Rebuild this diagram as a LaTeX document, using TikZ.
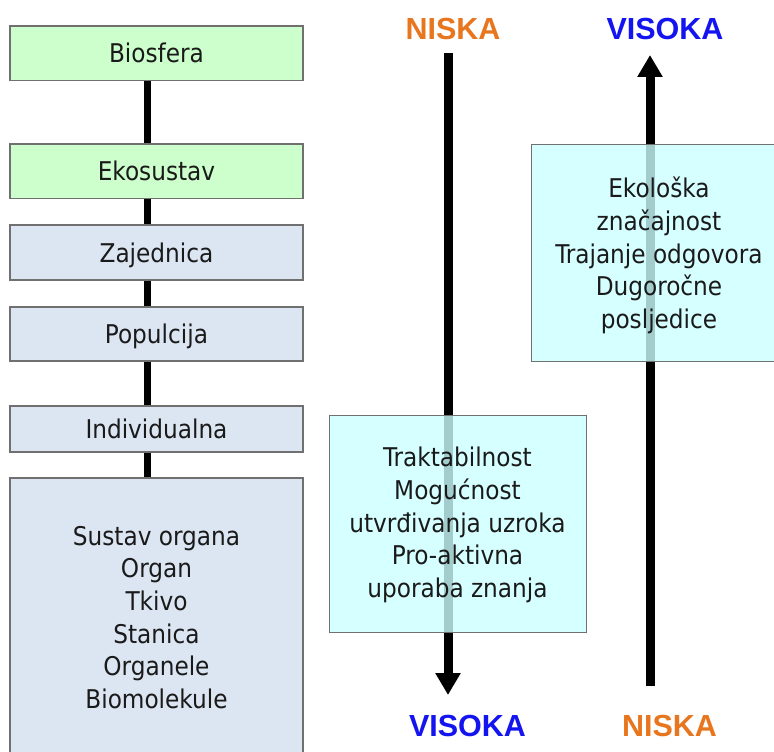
\documentclass[tikz,border=0pt]{standalone}
\usepackage{fontspec}
\setmainfont{DejaVu Sans Condensed}
\newfontfamily\labelfont{Liberation Sans}
\usetikzlibrary{arrows.meta}
\definecolor{greenbox}{HTML}{CCFFCC}
\definecolor{greybox}{HTML}{DCE6F2}
\definecolor{cyanbox}{HTML}{CCFFFF}
\definecolor{niskaorange}{HTML}{E8761E}
\definecolor{visokablue}{HTML}{1414F0}
\definecolor{boxedge}{HTML}{707070}
\definecolor{textdark}{HTML}{1A1A1A}
\begin{document}
\begin{tikzpicture}[x=1pt,y=-1pt,
  bodyfont/.style={font=\fontsize{25.8}{32.6}\selectfont, text=textdark},
  levelbox/.style={draw=boxedge, line width=1.2pt, minimum width=293pt, inner sep=0pt,
    bodyfont, text height=19pt, text depth=0pt},
  greenlevel/.style={levelbox, fill=greenbox},
  greylevel/.style={levelbox, fill=greybox},
  infobox/.style={draw=boxedge, line width=1pt, fill=cyanbox, fill opacity=0.8, text opacity=1,
    minimum width=257pt, minimum height=217pt, inner sep=0pt},
  infotext/.style={bodyfont, align=center, inner sep=0pt},
  conn/.style={line width=7pt, black},
  bigarrow/.style={line width=9pt, black, -{Triangle[width=24pt,length=22pt]}},
  lbl/.style={font=\labelfont\bfseries\fontsize{30.5}{30.5}\selectfont, inner sep=0pt},
]
\useasboundingbox (0,0) rectangle (774,752);

% connector axis
\coordinate (cx) at (147,0);

% level boxes
\node[greenlevel, minimum height=54.5pt] (bio) at (156.5,53.3) {Biosfera};
\node[greenlevel, minimum height=54.5pt] (eko) at (156.5,171.3) {Ekosustav};
\node[greylevel, minimum height=55pt] (zaj) at (156.5,252.5) {Zajednica};
\node[greylevel, minimum height=54pt] (pop) at (156.5,334) {Populcija};
\node[greylevel, minimum height=46pt] (ind) at (156.5,429) {Individualna};
\node[draw=boxedge, line width=1.2pt, fill=greybox, minimum width=293pt, minimum height=290pt, inner sep=0pt] (org) at (156.5,623) {};
\node[infotext] (orgtext) at (156.5,617.5) {Sustav organa\\Organ\\Tkivo\\Stanica\\Organele\\Biomolekule};

% connectors between levels
\draw[conn] (bio.south -| cx) -- (eko.north -| cx);
\draw[conn] (eko.south -| cx) -- (zaj.north -| cx);
\draw[conn] (zaj.south -| cx) -- (pop.north -| cx);
\draw[conn] (pop.south -| cx) -- (ind.north -| cx);
\draw[conn] (ind.south -| cx) -- (org.north -| cx);

% labels
\node[lbl, text=niskaorange] (nisT) at (453,29) {NISKA};
\node[lbl, text=visokablue] (visT) at (665,29) {VISOKA};
\node[lbl, text=visokablue] (visB) at (467.5,726) {VISOKA};
\node[lbl, text=niskaorange] (nisB) at (669.5,726) {NISKA};

% arrows
\coordinate (a1s) at (448,53);
\coordinate (a1e) at (448,695);
\coordinate (a2s) at (650,686);
\coordinate (a2e) at (650,55);
\draw[bigarrow] (a1s) -- (a1e);
\draw[bigarrow] (a2s) -- (a2e);

% semi-transparent info boxes
\node[infobox] (lowbox) at (457.5,523.5) {};
\node[infotext] (lowtext) at (457.5,525) {Traktabilnost\\Mogućnost\\utvrđivanja uzroka\\Pro-aktivna\\uporaba znanja};
\node[infobox] (highbox) at (659.5,252.5) {};
\node[infotext] (hightext) at (659,255.5) {Ekološka\\značajnost\\Trajanje odgovora\\Dugoročne\\posljedice};
\end{tikzpicture}
\end{document}
